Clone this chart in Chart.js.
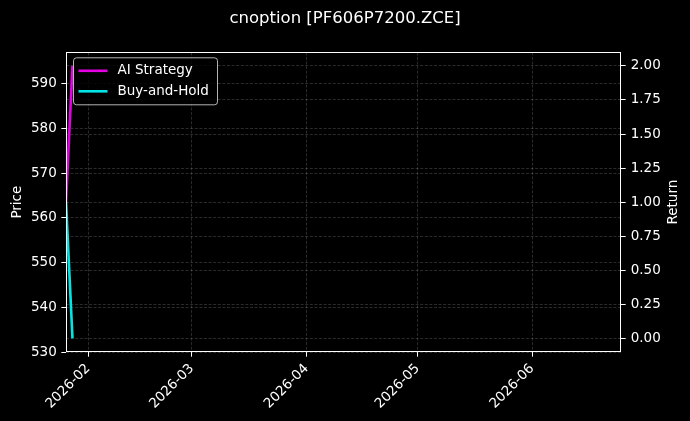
<!DOCTYPE html>
<html>
<head>
<meta charset="utf-8">
<script src="https://cdn.jsdelivr.net/npm/chart.js@4.4.1/dist/chart.umd.min.js"></script>
<style>
  html, body { margin: 0; padding: 0; background: #000; }
  #wrap { width: 690px; height: 421px; position: relative; }
</style>
</head>
<body>
<div id="wrap"><canvas id="c"></canvas></div>
<script>
// series data
var dates = ['2026-01-26T00:00:00Z', '2026-01-27T18:00:00Z'];
var aiStrategy = [1.0, 2.0];
var buyAndHold = [1.0, 0.0];
var seriesNames = ['AI Strategy', 'Buy-and-Hold'];
var seriesColors = ['rgba(255,0,255,0.9)', 'rgba(0,255,255,0.9)'];

// axis ranges and ticks
var xRange = ['2026-01-26T00:00:00Z', '2026-06-25T00:00:00Z'];
var monthTicks = ['2026-02-01T00:00:00Z', '2026-03-01T00:00:00Z', '2026-04-01T00:00:00Z', '2026-05-01T00:00:00Z', '2026-06-01T00:00:00Z'];
var priceRange = [530, 597];
var priceTicks = [530, 540, 550, 560, 570, 580, 590];
var returnRange = [-0.1, 2.1];
var returnTicks = [0, 0.25, 0.5, 0.75, 1.0, 1.25, 1.5, 1.75, 2.0];

var FONT = "'DejaVu Sans', sans-serif";
var GRID = 'rgba(176,176,176,0.3)';
Chart.defaults.font.family = FONT;
Chart.defaults.color = '#fff';

function pts(vals) {
    return vals.map(function (v, i) { return { x: Date.parse(dates[i]), y: v }; });
}
function fixTicks(list) {
    return function (scale) { scale.ticks = list.map(function (v) { return { value: v }; }); };
}
function fixSize(w, h) {
    return function (scale) {
        if (w) scale.width = w;
        if (h) scale.height = h;
    };
}
function ym(v) {
    var d = new Date(v);
    var m = d.getUTCMonth() + 1;
    return d.getUTCFullYear() + '-' + (m < 10 ? '0' : '') + m;
}

// spines on all four sides plus the right-hand axis title (reads bottom to top)
var frame = {
    id: 'frame',
    afterDraw: function (chart) {
        var a = chart.chartArea, ctx = chart.ctx;
        var l = Math.round(a.left) + 0.5, t = Math.round(a.top) + 0.5;
        var r = Math.round(a.right) - 0.5, b = Math.round(a.bottom) - 0.5;
        ctx.save();
        ctx.strokeStyle = '#fff';
        ctx.lineWidth = 1;
        ctx.strokeRect(l, t, r - l, b - t);
        ctx.translate(673, (a.top + a.bottom) / 2);
        ctx.rotate(-Math.PI / 2);
        ctx.font = '13.5px ' + FONT;
        ctx.fillStyle = '#fff';
        ctx.textAlign = 'center';
        ctx.textBaseline = 'middle';
        ctx.fillText('Return', 0, 0);
        ctx.restore();
    }
};

var boxLegend = {
    id: 'boxLegend',
    afterDatasetsDraw: function (chart) {
        var a = chart.chartArea, ctx = chart.ctx;
        var x = a.left + 7.5, y = a.top + 5.5, w = 144, h = 47, r = 3;
        ctx.save();
        ctx.beginPath();
        ctx.roundRect(x, y, w, h, r);
        ctx.fillStyle = 'rgba(0,0,0,0.8)';
        ctx.fill();
        ctx.strokeStyle = 'rgba(210,210,210,0.85)';
        ctx.lineWidth = 1;
        ctx.stroke();
        ctx.font = '13.5px ' + FONT;
        ctx.textBaseline = 'middle';
        chart.data.datasets.forEach(function (ds, i) {
            var cy = y + 13 + i * 20.5;
            ctx.strokeStyle = ds.borderColor;
            ctx.lineWidth = 2.6;
            ctx.beginPath();
            ctx.moveTo(x + 5, cy);
            ctx.lineTo(x + 34, cy);
            ctx.stroke();
            ctx.fillStyle = '#fff';
            ctx.fillText(ds.label, x + 44, cy);
        });
        ctx.restore();
    }
};

function lineSet(i, vals) {
    return {
        label: seriesNames[i],
        data: pts(vals),
        yAxisID: 'yr',
        borderColor: seriesColors[i],
        backgroundColor: seriesColors[i],
        borderWidth: 2.6,
        pointRadius: 0,
        tension: 0,
        fill: false
    };
}

new Chart(document.getElementById('c'), {
    type: 'line',
    data: { datasets: [lineSet(0, aiStrategy), lineSet(1, buyAndHold)] },
    plugins: [frame, boxLegend],
    options: {
        responsive: true,
        maintainAspectRatio: false,
        animation: false,
        layout: { padding: 0 },
        plugins: {
            legend: { display: false },
            tooltip: { enabled: false },
            title: {
                display: true,
                text: 'cnoption [PF606P7200.ZCE]',
                color: '#fff',
                font: { size: 16.5, weight: 'normal', family: FONT },
                padding: { top: 9, bottom: 23.5 }
            }
        },
        scales: {
            x: {
                type: 'linear',
                min: Date.parse(xRange[0]),
                max: Date.parse(xRange[1]),
                afterBuildTicks: fixTicks(monthTicks.map(function (d) { return Date.parse(d); })),
                afterFit: fixSize(0, 69),
                grid: { color: GRID, lineWidth: 0.8, tickColor: '#fff', tickLength: 4.7, tickWidth: 1 },
                border: { display: false, dash: [3, 1.6] },
                ticks: {
                    color: '#fff', font: { size: 13.5 }, padding: 4,
                    maxRotation: 45, minRotation: 45, autoSkip: false,
                    callback: function (v) { return ym(v); }
                }
            },
            yl: {
                type: 'linear',
                position: 'left',
                min: priceRange[0],
                max: priceRange[1],
                afterBuildTicks: fixTicks(priceTicks),
                afterFit: fixSize(66, 0),
                grid: { color: GRID, lineWidth: 0.8, tickColor: '#fff', tickLength: 4.7, tickWidth: 1 },
                border: { display: false, dash: [3, 1.6] },
                ticks: { color: '#fff', font: { size: 13.5 }, padding: 4.5 },
                title: { display: true, text: 'Price', color: '#fff', font: { size: 13.5 }, padding: { top: 9, bottom: 0 } }
            },
            yr: {
                type: 'linear',
                position: 'right',
                min: returnRange[0],
                max: returnRange[1],
                afterBuildTicks: fixTicks(returnTicks),
                afterFit: fixSize(69, 0),
                grid: { color: GRID, lineWidth: 0.8, tickColor: '#fff', tickLength: 4.7, tickWidth: 1 },
                border: { display: false, dash: [3, 1.6] },
                ticks: {
                    color: '#fff', font: { size: 13.5 }, padding: 5,
                    callback: function (v) { return v.toFixed(2); }
                }
            }
        }
    }
});
</script>
</body>
</html>
